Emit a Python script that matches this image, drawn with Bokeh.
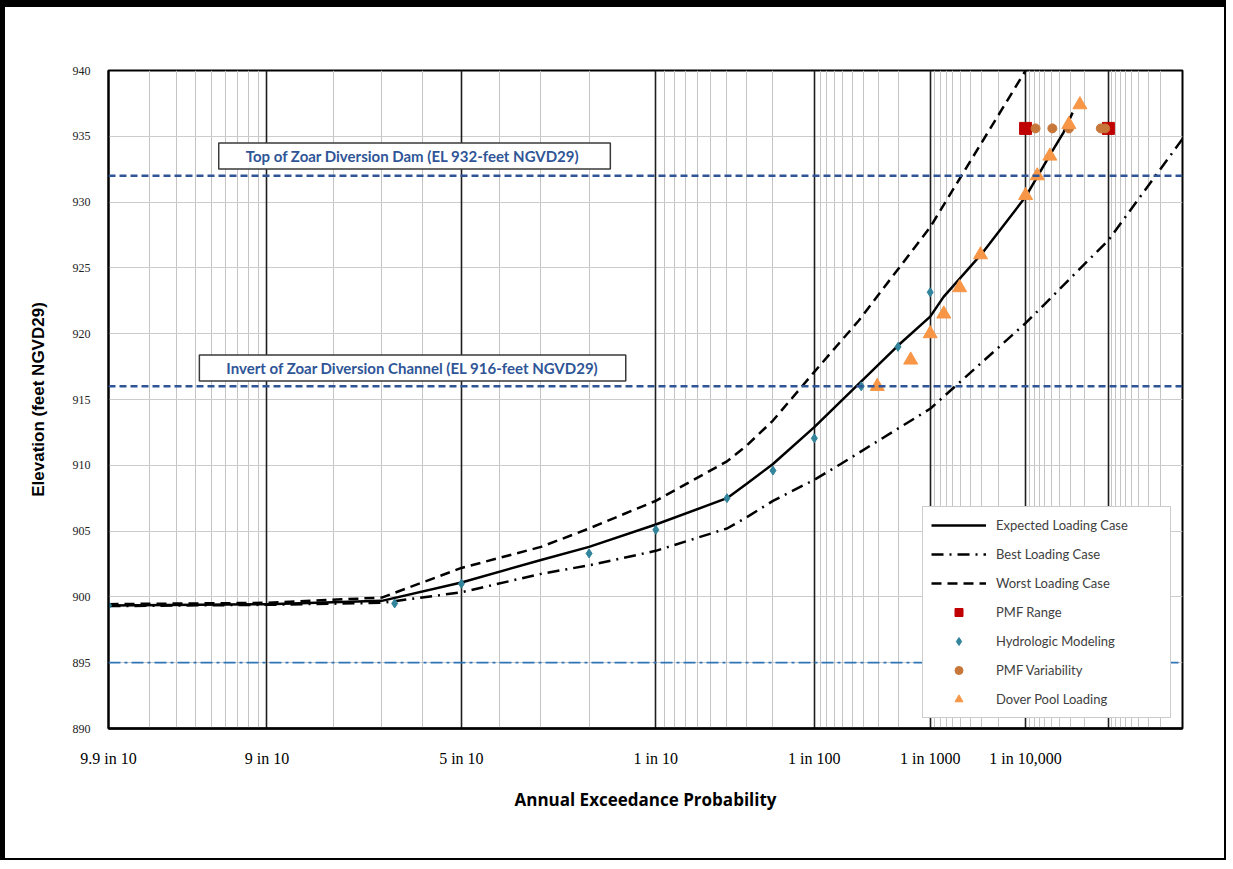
from statistics import NormalDist
from bokeh.plotting import figure
from bokeh.models import (Range1d, FixedTicker, Grid, Span, Label, Legend, LegendItem,
                          CustomJSTickFormatter)
from bokeh.embed import file_html
from bokeh.resources import INLINE

ND = NormalDist()
def u(p):
    return -ND.inv_cdf(p)

# ---------------- data (annual exceedance probability, elevation ft NGVD29) -------------
expected_p = [0.99, 0.9, 0.7, 0.5, 0.3, 0.2, 0.1, 0.04, 0.03, 0.02, 0.01, 0.002, 0.001,
              0.00074, 0.0003, 0.0001, 5.2e-5, 3.6e-5, 2.8e-5]
expected_el = [899.35, 899.45, 899.7, 901.1, 902.8, 903.8, 905.5, 907.5, 908.6, 910.1, 912.9,
               919.1, 921.3, 922.8, 926.1, 930.4, 933.6, 935.3, 936.8]

best_p = [0.99, 0.9, 0.7, 0.5, 0.3, 0.2, 0.1, 0.04, 0.03, 0.02, 0.01, 0.0062, 0.001, 0.0001,
          1e-5, 1e-6]
best_el = [899.3, 899.4, 899.55, 900.35, 901.75, 902.4, 903.5, 905.2, 906.05, 907.3, 908.9,
           910.1, 914.3, 920.8, 927.1, 934.8]

worst_p = [0.99, 0.9, 0.7, 0.5, 0.3, 0.2, 0.1, 0.04, 0.03, 0.02, 0.01, 0.0044, 0.001, 0.0001]
worst_el = [899.45, 899.55, 899.95, 902.2, 903.8, 905.2, 907.3, 910.3, 911.5, 913.4, 917.1,
            921.0, 928.1, 940.0]

pmf_range_p = [1e-4, 1e-5]
pmf_range_el = [935.6, 935.6]

hydro_p = [0.99, 0.67, 0.5, 0.2, 0.1, 0.04, 0.02, 0.01, 0.0042, 0.002, 0.001]
hydro_el = [899.35, 899.5, 901.0, 903.3, 905.1, 907.5, 909.6, 912.05, 916.0, 919.0, 923.15]

pmf_var_p = [7.7e-5, 4.9e-5, 3.1e-5, 1.25e-5, 1.1e-5]
pmf_var_el = [935.6, 935.6, 935.6, 935.6, 935.6]

dover_p = [0.00306, 0.00153, 0.001, 0.000737, 0.000512, 0.000311, 0.0001, 7.35e-5, 5.24e-5,
           3.11e-5, 2.28e-5]
dover_el = [916.0, 918.0, 920.0, 921.5, 923.5, 926.0, 930.5, 932.0, 933.5, 935.9, 937.4]

tick_p = [0.99, 0.9, 0.5, 0.1, 0.01, 0.001, 0.0001]
tick_labels = ["9.9 in 10", "9 in 10", "5 in 10", "1 in 10", "1 in 100", "1 in 1000",
               "1 in 10,000"]
major_grid_p = [0.99, 0.9, 0.5, 0.1, 0.01, 0.001, 0.0001, 1e-5, 1e-6]
minor_grid_p = ([0.98, 0.97, 0.96, 0.95, 0.94, 0.93, 0.92, 0.91, 0.8, 0.7, 0.6, 0.4, 0.3, 0.2]
                + [k * 10.0 ** e for e in (-2, -3, -4, -5, -6) for k in range(9, 1, -1)])
y_ticks = [890, 895, 900, 905, 910, 915, 920, 925, 930, 935, 940]

dam_el = 932
channel_el = 916
low_el = 895

# ---------------- figure ----------------
p = figure(width=1226, height=860, output_backend="svg", toolbar_location=None,
           x_range=Range1d(u(0.99), u(1e-6)), y_range=Range1d(890, 940),
           min_border_left=103, min_border_right=49, min_border_top=63, min_border_bottom=139,
           background_fill_color="white", border_fill_color="white")
p.styles = {"border-top": "7px solid black", "border-left": "5px solid black",
            "border-right": "2px solid black", "border-bottom": "2px solid black"}
p.outline_line_color = "black"
p.outline_line_width = 2

# grids
p.xgrid.ticker = FixedTicker(ticks=[u(v) for v in minor_grid_p])
p.xgrid.grid_line_color = "#c4c4c4"
p.xgrid.grid_line_width = 1
p.ygrid.ticker = FixedTicker(ticks=y_ticks)
p.ygrid.grid_line_color = "#cccccc"
p.ygrid.grid_line_width = 1.2
major_grid = Grid(dimension=0, ticker=FixedTicker(ticks=[u(v) for v in major_grid_p]),
                  grid_line_color="#1e1e1e", grid_line_width=1.6)
p.add_layout(major_grid)

# axes
xa = p.xaxis[0]
xa.ticker = FixedTicker(ticks=[u(v) for v in tick_p])
xa.formatter = CustomJSTickFormatter(args=dict(tv=[u(v) for v in tick_p], tl=tick_labels), code="""
for (let i = 0; i < tv.length; i++) { if (Math.abs(tick - tv[i]) < 1e-6) return tl[i]; }
return "";
""")
xa.major_label_text_font = "Liberation Serif"
xa.major_label_text_font_size = "16px"
xa.major_label_text_color = "black"
xa.major_label_standoff = 15
xa.axis_label = "Annual Exceedance Probability"
xa.axis_label_text_font = "Open Sans"
xa.axis_label_text_font_style = "bold"
xa.axis_label_text_font_size = "17px"
xa.axis_label_text_color = "black"
xa.axis_label_standoff = 18
xa.major_tick_line_color = None
xa.minor_tick_line_color = None
xa.axis_line_color = "black"
xa.axis_line_width = 2.5

ya = p.yaxis[0]
ya.ticker = FixedTicker(ticks=y_ticks)
ya.major_label_text_font = "Liberation Serif"
ya.major_label_text_font_size = "12px"
ya.major_label_text_color = "#222222"
ya.major_label_standoff = 12
ya.axis_label = "Elevation (feet NGVD29)"
ya.axis_label_text_font = "Liberation Sans"
ya.axis_label_text_font_style = "bold"
ya.axis_label_text_font_size = "17px"
ya.axis_label_text_color = "black"
ya.axis_label_standoff = 22
ya.major_tick_line_color = None
ya.minor_tick_line_color = None
ya.axis_line_color = "black"
ya.axis_line_width = 2

# reference lines
p.add_layout(Span(location=dam_el, dimension="width", line_color="#2F5597", line_width=2.5,
                  line_dash="7 4"))
p.add_layout(Span(location=channel_el, dimension="width", line_color="#2F5597", line_width=2.5,
                  line_dash="7 4"))
p.add_layout(Span(location=low_el, dimension="width", line_color="#2E75B6", line_width=1.8,
                  line_dash="12 4 3 4"))

# annotation boxes
for txt, xp, yel in [("Top of Zoar Diversion Dam  (EL 932-feet NGVD29)", -0.309, 933.5),
                     ("Invert of Zoar Diversion Channel (EL 916-feet NGVD29)", -0.322, 917.4)]:
    p.add_layout(Label(x=xp, y=yel, text=txt, text_align="center", text_baseline="middle",
                       text_font="Lato", text_font_style="bold", text_font_size="15px",
                       text_color="#2F5597", background_fill_color="white",
                       border_line_color="#3a3a3a", border_line_width=1.5,
                       padding=dict(left=27, right=27, top=4, bottom=4)))

# curves
r_exp = p.line([u(v) for v in expected_p], expected_el, line_color="black", line_width=2.5)
r_best = p.line([u(v) for v in best_p], best_el, line_color="black", line_width=2.5,
                line_dash="12 6 2 6")
r_worst = p.line([u(v) for v in worst_p], worst_el, line_color="black", line_width=2.5,
                 line_dash="10 6")

r_range = p.scatter([u(v) for v in pmf_range_p], pmf_range_el, marker="square", size=12,
                    fill_color="#C00000", line_color="#C00000")
r_hydro = p.scatter([u(v) for v in hydro_p], hydro_el, marker="diamond", size=9,
                    fill_color="#31849B", line_color="#31849B")
r_var = p.scatter([u(v) for v in pmf_var_p], pmf_var_el, marker="circle", size=9,
                  fill_color="#C8773A", line_color="#C8773A")
r_dover = p.scatter([u(v) for v in dover_p], dover_el, marker="triangle", size=14,
                    fill_color="#F79646", line_color="#F79646")

legend = Legend(items=[
    LegendItem(label="Expected Loading Case", renderers=[r_exp]),
    LegendItem(label="Best Loading Case", renderers=[r_best]),
    LegendItem(label="Worst Loading Case", renderers=[r_worst]),
    LegendItem(label="PMF Range", renderers=[r_range]),
    LegendItem(label="Hydrologic Modeling", renderers=[r_hydro]),
    LegendItem(label="PMF Variability", renderers=[r_var]),
    LegendItem(label="Dover Pool Loading", renderers=[r_dover]),
], location=(814, 10))
legend.label_text_font = "Lato"
legend.label_text_font_size = "13px"
legend.label_text_color = "#404040"
legend.glyph_width = 55
legend.glyph_height = 20
legend.label_height = 20
legend.label_standoff = 10
legend.spacing = 9
legend.padding = 8
legend.margin = 0
legend.border_line_color = "#9a9a9a"
legend.border_line_width = 1
legend.background_fill_color = "white"
legend.background_fill_alpha = 1
legend.label_width = 166
p.add_layout(legend)

open("out.html", "w").write(file_html(p, INLINE))
